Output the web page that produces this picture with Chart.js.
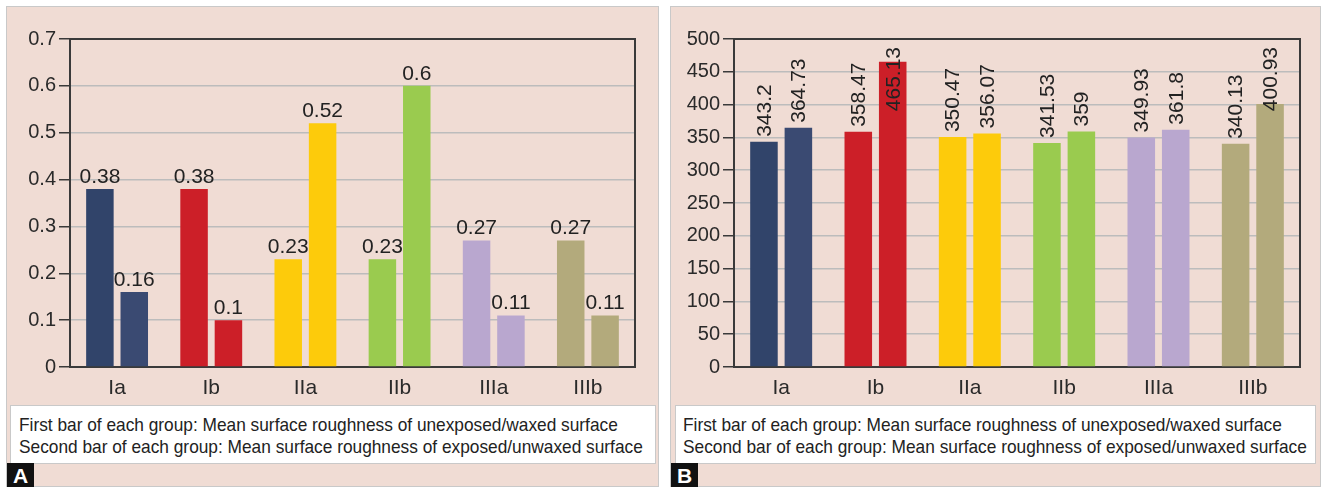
<!DOCTYPE html>
<html>
<head>
<meta charset="utf-8">
<script src="https://cdn.jsdelivr.net/npm/chart.js@4"></script>
<style>
  body { margin: 0; background: #fff; width: 1321px; height: 487px; overflow: hidden; position: relative;
         font-family: "Liberation Sans", Arial, sans-serif; }
  .panel { position: absolute; top: 6px; height: 481px; background: #f0dcd4; border: 1px solid #c9c9c9; box-sizing: border-box; }
  .panel canvas { position: absolute; left: 0; top: 0; }
  .legend { position: absolute; top: 398px; height: 59px; background: #fff; border: 1px solid #c9c9c9; box-sizing: border-box;
            padding: 8px 0 0 8px; font-size: 19px; line-height: 22px; color: #222; white-space: nowrap; }
  .legend span { display: inline-block; transform: scaleX(0.91); transform-origin: left center; }
  .tag { position: absolute; left: 0; top: 456px; width: 27px; height: 25px; background: #111; color: #fff;
         font-weight: bold; font-size: 21px; line-height: 25px; text-align: center; }
</style>
</head>
<body>
<div class="panel" id="pa" style="left:6px;width:653px;">
  <canvas id="chartA" width="653" height="398"></canvas>
  <div class="legend" style="left:3px;width:646px;"><span>First bar of each group: Mean surface roughness of unexposed/waxed surface</span><br><span>Second bar of each group: Mean surface roughness of exposed/unwaxed surface</span></div>
  <div class="tag">A</div>
</div>
<div class="panel" id="pb" style="left:670px;width:651px;">
  <canvas id="chartB" width="651" height="398"></canvas>
  <div class="legend" style="left:4px;width:641px;padding-left:7px;"><span>First bar of each group: Mean surface roughness of unexposed/waxed surface</span><br><span>Second bar of each group: Mean surface roughness of exposed/unwaxed surface</span></div>
  <div class="tag">B</div>
</div>
<script>
// data
const groups = ["Ia", "Ib", "IIa", "IIb", "IIIa", "IIIb"];
const waxedA = [0.38, 0.38, 0.23, 0.23, 0.27, 0.27];
const unwaxedA = [0.16, 0.1, 0.52, 0.6, 0.11, 0.11];
const waxedB = [343.2, 358.47, 350.47, 341.53, 349.93, 340.13];
const unwaxedB = [364.73, 465.13, 356.07, 359, 361.8, 400.93];
const firstColors = ["#31446a", "#cc1f28", "#fdcb0b", "#9acb4f", "#b9a7cf", "#b3aa7c"];
const secondColors = ["#3a4a72", "#cc1f28", "#fdcb0b", "#9acb4f", "#b9a7cf", "#b3aa7c"];

const FONT = '"Liberation Sans", Arial, sans-serif';
Chart.defaults.font.family = FONT;
Chart.defaults.color = "#2a2a2a";

// frame round the plot area
const framePlugin = {
  id: "frame",
  beforeDatasetsDraw(chart) {
    const a = chart.chartArea, ctx = chart.ctx;
    ctx.save();
    ctx.strokeStyle = "#3a3a3a";
    ctx.lineWidth = 2;
    ctx.strokeRect(a.left, a.top, a.right - a.left, a.bottom - a.top);
    ctx.restore();
  }
};

// value labels above bars
function valueLabels(rotated) {
  return {
    id: "valueLabels",
    afterDatasetsDraw(chart) {
      const ctx = chart.ctx, top = chart.chartArea.top;
      ctx.save();
      ctx.font = "21px " + FONT;
      ctx.fillStyle = "#222";
      chart.data.datasets.forEach((ds, i) => {
        chart.getDatasetMeta(i).data.forEach((bar, j) => {
          const txt = String(ds.data[j]);
          if (rotated) {
            const w = ctx.measureText(txt).width;
            let start = bar.y - 5;
            if (start - w < top + 8) start = top + 8 + w;
            ctx.save();
            ctx.translate(bar.x, start);
            ctx.rotate(-Math.PI / 2);
            ctx.textAlign = "left";
            ctx.textBaseline = "middle";
            ctx.fillText(txt, 0, 1);
            ctx.restore();
          } else {
            ctx.textAlign = "center";
            ctx.textBaseline = "alphabetic";
            ctx.fillText(txt, bar.x, bar.y - 6);
          }
        });
      });
      ctx.restore();
    }
  };
}

function makeChart(id, first, second, max, step, rightPad, rotated) {
  new Chart(document.getElementById(id), {
    type: "bar",
    data: {
      labels: groups,
      datasets: [
        { data: first, backgroundColor: firstColors, borderWidth: 0 },
        { data: second, backgroundColor: secondColors, borderWidth: 0 }
      ]
    },
    options: {
      responsive: false,
      animation: false,
      devicePixelRatio: 1,
      categoryPercentage: 0.73,
      barPercentage: 0.8,
      layout: { padding: { top: 32, right: rightPad, bottom: 0, left: 0 } },
      plugins: { legend: { display: false }, tooltip: { enabled: false } },
      scales: {
        x: {
          grid: { display: false, drawTicks: false },
          border: { display: false },
          ticks: { font: { size: 21 }, padding: 9, color: "#2a2a2a" },
          afterFit(s) { s.height = 38; }
        },
        y: {
          min: 0, max: max,
          grid: { color: "#bcbcbc", lineWidth: 1.5, tickColor: "#3a3a3a", tickLength: 11, tickWidth: 1.5 },
          border: { display: false },
          ticks: { stepSize: step, font: { size: 20 }, padding: 3, color: "#2a2a2a" },
          afterFit(s) { s.width = 63; }
        }
      }
    },
    plugins: [framePlugin, valueLabels(rotated)]
  });
}

makeChart("chartA", waxedA, unwaxedA, 0.7, 0.1, 25, false);
makeChart("chartB", waxedB, unwaxedB, 500, 50, 22, true);
</script>
</body>
</html>
